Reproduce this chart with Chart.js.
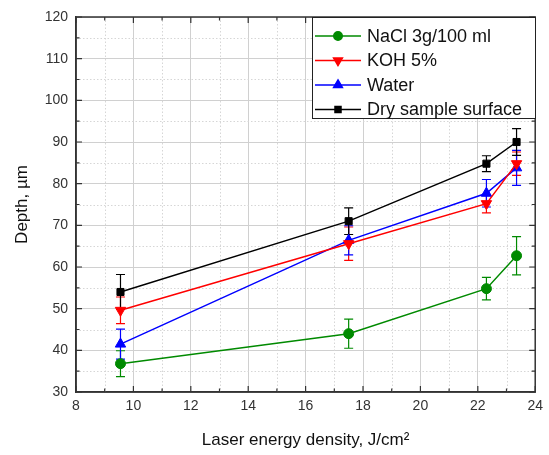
<!DOCTYPE html>
<html>
<head>
<meta charset="utf-8">
<script src="https://cdn.jsdelivr.net/npm/chart.js@4"></script>
<style>
  html, body { margin: 0; padding: 0; background: #fff; }
  #wrap { width: 549px; height: 455px; }
</style>
</head>
<body>
<div id="wrap"><canvas id="myChart" width="549" height="455"></canvas></div>
<script>
// laser energy density, J/cm2
const energy = [9.55, 17.5, 22.3, 23.35];

// depth, um, and error half-widths
const nacl = [36.8, 44.0, 54.8, 62.7];
const naclErr = [3.1, 3.5, 2.7, 4.6];
const koh = [49.6, 65.6, 75.2, 84.8];
const kohErr = [3.2, 4.0, 2.2, 2.8];
const water = [41.5, 66.4, 77.7, 83.8];
const waterErr = [3.6, 3.5, 3.3, 4.2];
const dry = [54.0, 71.0, 84.8, 90.0];
const dryErr = [4.2, 3.2, 1.9, 3.2];

const seriesNames = ['NaCl 3g/100 ml', 'KOH 5%', 'Water', 'Dry sample surface'];

const FONT = 'Arial, "Liberation Sans", sans-serif';

function pts(ys) {
    return ys.map((y, i) => ({ x: energy[i], y: y }));
}

function makeSet(label, ys, errs, color, style, rot, r) {
    return {
        label: label,
        data: pts(ys),
        errors: errs,
        showLine: true,
        borderColor: color,
        backgroundColor: color,
        borderWidth: 1.5,
        pointStyle: style,
        pointRotation: rot,
        pointRadius: r,
        pointHoverRadius: r,
        pointBorderWidth: 1,
        tension: 0
    };
}

// error bars from the dataset's own errors array
const errorBars = {
    id: 'errorBars',
    beforeDatasetsDraw(chart) {
        const ctx = chart.ctx;
        const xs = chart.scales.x, ys = chart.scales.y;
        chart.data.datasets.forEach(ds => {
            ctx.save();
            ctx.strokeStyle = ds.borderColor;
            ctx.lineWidth = 1.2;
            ds.data.forEach((p, i) => {
                const e = ds.errors[i];
                const px = xs.getPixelForValue(p.x);
                const top = ys.getPixelForValue(p.y + e);
                const bot = ys.getPixelForValue(p.y - e);
                ctx.beginPath();
                ctx.moveTo(px, top); ctx.lineTo(px, bot);
                ctx.moveTo(px - 4.5, top); ctx.lineTo(px + 4.5, top);
                ctx.moveTo(px - 4.5, bot); ctx.lineTo(px + 4.5, bot);
                ctx.stroke();
            });
            ctx.restore();
        });
    }
};

// minor dotted grid, frame, inward ticks, legend
const frame = {
    id: 'frame',
    beforeDatasetsDraw(chart) {
        const ctx = chart.ctx, a = chart.chartArea;
        const xs = chart.scales.x, ys = chart.scales.y;
        ctx.save();
        ctx.strokeStyle = '#d6d6d6';
        ctx.lineWidth = 1;
        ctx.setLineDash([1.5, 2]);
        for (let v = 9; v < 24; v += 2) {
            const px = Math.round(xs.getPixelForValue(v)) + 0.5;
            ctx.beginPath(); ctx.moveTo(px, a.top); ctx.lineTo(px, a.bottom); ctx.stroke();
        }
        for (let v = 35; v < 120; v += 10) {
            const py = Math.round(ys.getPixelForValue(v)) + 0.5;
            ctx.beginPath(); ctx.moveTo(a.left, py); ctx.lineTo(a.right, py); ctx.stroke();
        }
        ctx.restore();
    },
    afterDraw(chart) {
        const ctx = chart.ctx, a = chart.chartArea;
        const xs = chart.scales.x, ys = chart.scales.y;
        ctx.save();
        ctx.strokeStyle = '#333';
        ctx.lineWidth = 1.5;
        ctx.strokeRect(a.left, a.top, a.right - a.left, a.bottom - a.top);
        ctx.lineWidth = 1.2;
        ctx.beginPath();
        for (let v = 8; v <= 24; v += 1) {
            const px = xs.getPixelForValue(v);
            const len = v % 2 === 0 ? 6 : 3.5;
            ctx.moveTo(px, a.bottom); ctx.lineTo(px, a.bottom - len);
            ctx.moveTo(px, a.top); ctx.lineTo(px, a.top + len);
        }
        for (let v = 30; v <= 120; v += 5) {
            const py = ys.getPixelForValue(v);
            const len = v % 10 === 0 ? 6 : 3.5;
            ctx.moveTo(a.left, py); ctx.lineTo(a.left + len, py);
            ctx.moveTo(a.right, py); ctx.lineTo(a.right - len, py);
        }
        ctx.stroke();

        // legend box
        const lx = 312, ly = a.top, lw = 223, lh = 101;
        ctx.fillStyle = '#fff';
        ctx.fillRect(lx, ly, lw, lh);
        ctx.strokeStyle = '#222';
        ctx.lineWidth = 1;
        ctx.strokeRect(lx + 0.5, ly + 0.5, lw, lh);
        ctx.font = '18px ' + FONT;
        ctx.textBaseline = 'middle';
        chart.data.datasets.forEach((ds, i) => {
            const yy = ly + 19 + i * 24.5;
            ctx.strokeStyle = ds.borderColor;
            ctx.lineWidth = 1.5;
            ctx.beginPath(); ctx.moveTo(315, yy); ctx.lineTo(361, yy); ctx.stroke();
            Chart.helpers.drawPoint(ctx, {
                pointStyle: ds.pointStyle, rotation: ds.pointRotation,
                radius: ds.pointRadius * 0.85, borderWidth: 1
            }, 338, yy);
            ctx.fillStyle = ds.backgroundColor;
            ctx.fill();
            ctx.fillStyle = '#111';
            ctx.fillText(ds.label, 367, yy + 1);
        });
        ctx.restore();
    }
};

const ctx = document.getElementById('myChart').getContext('2d');
const myChart = new Chart(ctx, {
    type: 'scatter',
    data: {
        datasets: [
            makeSet(seriesNames[0], nacl, naclErr, '#008a00', 'circle', 0, 5),
            makeSet(seriesNames[1], koh, kohErr, '#ff0000', 'triangle', 180, 6),
            makeSet(seriesNames[2], water, waterErr, '#0000ff', 'triangle', 0, 6),
            makeSet(seriesNames[3], dry, dryErr, '#000000', 'rect', 0, 5)
        ]
    },
    options: {
        responsive: false,
        animation: false,
        events: [],
        layout: { padding: { top: 17, right: 9, left: 0, bottom: 0 } },
        plugins: { legend: { display: false }, tooltip: { enabled: false } },
        scales: {
            x: {
                type: 'linear',
                min: 8, max: 24,
                afterFit: s => { s.height = 63; },
                ticks: { stepSize: 2, padding: 6, color: '#333', font: { family: FONT, size: 14 } },
                grid: { color: '#d0d0d0', drawTicks: false },
                border: { color: '#333', width: 1.5 },
                title: {
                    display: true, text: 'Laser energy density, J/cm\u00b2',
                    color: '#111', font: { family: FONT, size: 17 }, padding: { top: 10 }
                }
            },
            y: {
                min: 30, max: 120,
                afterFit: s => { s.width = 76; },
                ticks: { stepSize: 10, padding: 8, color: '#333', font: { family: FONT, size: 14 } },
                grid: { color: '#d0d0d0', drawTicks: false },
                border: { color: '#333', width: 1.5 },
                title: {
                    display: true, text: 'Depth, \u00b5m',
                    color: '#111', font: { family: FONT, size: 17 }, padding: { top: 12, bottom: 0 }
                }
            }
        }
    },
    plugins: [errorBars, frame]
});
</script>
</body>
</html>
